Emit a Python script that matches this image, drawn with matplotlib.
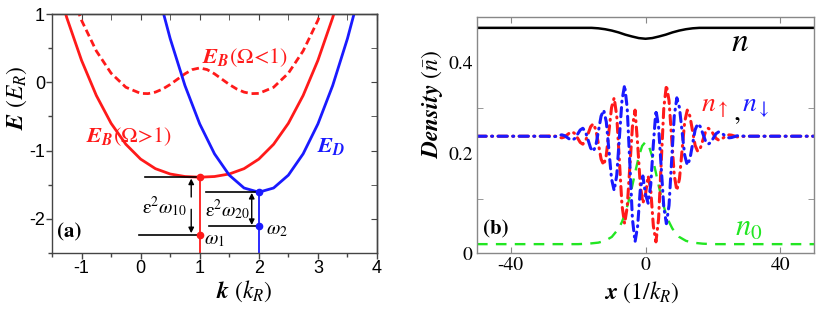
import matplotlib
matplotlib.use("Agg")
import matplotlib.pyplot as plt
import numpy as np

plt.rcParams['mathtext.fontset'] = 'stix'
plt.rcParams['font.family'] = ['STIXGeneral', 'DejaVu Serif']
plt.rcParams['axes.unicode_minus'] = False

# ---------------- Panel (a) data ----------------
k_B_strong = [-1.5, -1.25, -1.0, -0.75, -0.5, -0.25, 0.0, 0.25, 0.5, 0.75, 1.0,
              1.25, 1.5, 1.75, 2.0, 2.25, 2.5, 2.75, 3.0, 3.25, 3.5]
E_B_strong = [1.685, 0.946, 0.321, -0.193, -0.601, -0.908, -1.125, -1.265, -1.343, -1.380, -1.390,
              -1.380, -1.343, -1.265, -1.125, -0.908, -0.601, -0.193, 0.321, 0.946, 1.685]

k_B_weak = [-1.25, -1.0, -0.75, -0.5, -0.25, 0.0, 0.125, 0.25, 0.375, 0.5, 0.625, 0.75, 0.875, 1.0,
            1.125, 1.25, 1.375, 1.5, 1.625, 1.75, 1.875, 2.0, 2.25, 2.5, 2.75, 3.0, 3.25]
E_B_weak = [1.477, 0.907, 0.459, 0.133, -0.073, -0.163, -0.166, -0.144, -0.098, -0.032, 0.046, 0.124, 0.186, 0.210,
            0.186, 0.124, 0.046, -0.032, -0.098, -0.144, -0.166, -0.163, -0.073, 0.133, 0.459, 0.907, 1.477]

k_D = [0.25, 0.5, 0.75, 1.0, 1.25, 1.5, 1.75, 2.0, 2.25, 2.5, 2.75, 3.0, 3.25, 3.5, 3.75]
E_D = [1.453, 0.640, -0.048, -0.610, -1.048, -1.360, -1.548, -1.610, -1.548, -1.360, -1.048, -0.610, -0.048, 0.640, 1.453]

k_min1, E_min1, E_w1 = 1.0, -1.39, -2.23
k_min2, E_min2, E_w2 = 2.0, -1.61, -2.10

# ---------------- Panel (b) data ----------------
x_s = [-50.0, -29.45, -28.68, -27.9, -27.13, -26.35, -25.58, -24.8, -24.03, -23.25, -22.48,
       -21.7, -20.93, -20.15, -19.38, -18.6, -17.83, -17.05, -16.28, -15.5, -14.73,
       -13.95, -13.18, -12.4, -11.63, -10.85, -10.08, -9.3, -8.53, -7.75, -6.98,
       -6.2, -5.43, -4.65, -3.88, -3.1, -2.33, -1.55, -0.78, 0.0, 0.78,
       1.55, 2.33, 3.1, 3.88, 4.65, 5.43, 6.2, 6.98, 7.75, 8.53,
       9.3, 10.08, 10.85, 11.63, 12.4, 13.18, 13.95, 14.73, 15.5, 16.28,
       17.05, 17.83, 18.6, 19.38, 20.15, 20.93, 21.7, 22.48, 23.25, 24.03,
       24.8, 25.58, 26.35, 27.13, 27.9, 28.68, 29.45, 50.0]
n_down = [0.2375, 0.2375, 0.2370, 0.2355, 0.2362, 0.2380, 0.2398, 0.2405, 0.2388, 0.2348, 0.2307,
          0.2290, 0.2328, 0.2420, 0.2512, 0.2550, 0.2476, 0.2295, 0.2114, 0.2040, 0.2173,
          0.2495, 0.2817, 0.2950, 0.2692, 0.2065, 0.1438, 0.1180, 0.1519, 0.2340, 0.3161,
          0.3500, 0.2996, 0.1775, 0.0554, 0.0050, 0.0400, 0.1200, 0.1500, 0.1100, 0.0900,
          0.1300, 0.2200, 0.2950, 0.2585, 0.1700, 0.0815, 0.0450, 0.0854, 0.1835, 0.2816,
          0.3220, 0.3004, 0.2480, 0.1956, 0.1740, 0.1873, 0.2195, 0.2517, 0.2650, 0.2584,
          0.2425, 0.2266, 0.2200, 0.2239, 0.2335, 0.2431, 0.2470, 0.2451, 0.2405, 0.2359,
          0.2340, 0.2347, 0.2365, 0.2383, 0.2390, 0.2380, 0.2375, 0.2375]
n_up = [0.2375, 0.2375, 0.2380, 0.2390, 0.2383, 0.2365, 0.2347, 0.2340, 0.2359, 0.2405, 0.2451,
        0.2470, 0.2431, 0.2335, 0.2239, 0.2200, 0.2266, 0.2425, 0.2584, 0.2650, 0.2517,
        0.2195, 0.1873, 0.1740, 0.1956, 0.2480, 0.3004, 0.3220, 0.2816, 0.1835, 0.0854,
        0.0450, 0.0815, 0.1700, 0.2585, 0.2950, 0.2200, 0.1300, 0.0900, 0.1100, 0.1500,
        0.1200, 0.0400, 0.0050, 0.0554, 0.1775, 0.2996, 0.3500, 0.3161, 0.2340, 0.1519,
        0.1180, 0.1438, 0.2065, 0.2692, 0.2950, 0.2817, 0.2495, 0.2173, 0.2040, 0.2114,
        0.2295, 0.2476, 0.2550, 0.2512, 0.2420, 0.2328, 0.2290, 0.2307, 0.2348, 0.2388,
        0.2405, 0.2398, 0.2380, 0.2362, 0.2355, 0.2370, 0.2375, 0.2375]

x_n = [-50, -16, -14, -12, -10, -8, -6, -4, -2, 0, 2, 4, 6, 8, 10, 12, 14, 16, 50]
n_tot = [0.476, 0.476, 0.475, 0.473, 0.470, 0.466, 0.461, 0.457, 0.4535, 0.452,
         0.4535, 0.457, 0.461, 0.466, 0.470, 0.473, 0.475, 0.476, 0.476]

x_0 = [-50, -20, -17, -14, -12, -10, -8, -7, -6, -5, -4, -3, -2, -1, 0,
       1, 2, 3, 4, 5, 6, 7, 8, 10, 12, 14, 17, 20, 50]
n_0 = [0.0, 0.0, 0.001, 0.0033, 0.0073, 0.0159, 0.0339, 0.0486, 0.0686, 0.0945, 0.1258, 0.160, 0.1925, 0.216, 0.225,
       0.216, 0.1925, 0.160, 0.1258, 0.0945, 0.0686, 0.0486, 0.0339, 0.0159, 0.0073, 0.0033, 0.001, 0.0, 0.0]

RED = '#ff1a1a'
BLUE = '#1a1aff'
GREEN = '#22e622'

fig = plt.figure(figsize=(8.30, 3.09), dpi=100)
W, H = 830.0, 309.0

# ---------------- Panel (a) ----------------
axa = fig.add_axes([52 / W, 1 - 253 / H, 325 / W, 239 / H])
axa.plot(k_B_weak, E_B_weak, color=RED, lw=2.0, ls=(0, (2.6, 1.4)), solid_joinstyle='round')
axa.plot(k_B_strong, E_B_strong, color=RED, lw=2.0, solid_joinstyle='round')
axa.plot(k_D, E_D, color=BLUE, lw=2.0, solid_joinstyle='round')

axa.plot([k_min1, k_min1], [E_min1, -2.6], color=RED, lw=1.3)
axa.plot([k_min2, k_min2], [E_min2, -2.6], color=BLUE, lw=1.3)
axa.plot([0.07, k_min1], [E_min1, E_min1], color='black', lw=1.2)
axa.plot([-0.02, k_min1], [E_w1, E_w1], color='black', lw=1.2)
axa.plot([1.11, k_min2], [E_min2, E_min2], color='black', lw=1.2)
axa.plot([1.16, k_min2], [E_w2, E_w2], color='black', lw=1.2)
axa.plot([k_min1, k_min1], [E_min1, E_w1], 'o', color=RED, ms=4.5, zorder=5)
axa.plot([k_min2, k_min2], [E_min2, E_w2], 'o', color=BLUE, ms=4.5, zorder=5)

ap = dict(arrowstyle='-|>', color='black', lw=1.0, mutation_scale=8, shrinkA=0, shrinkB=0)
axa.annotate('', xy=(0.856, E_min1 - 0.02), xytext=(0.856, -1.68), arrowprops=ap)
axa.annotate('', xy=(0.856, E_w1 + 0.02), xytext=(0.856, -1.86), arrowprops=ap)
ap2 = dict(arrowstyle='<|-|>', color='black', lw=1.0, mutation_scale=8, shrinkA=0, shrinkB=0)
axa.annotate('', xy=(1.88, E_min2 - 0.01), xytext=(1.88, E_w2 + 0.01), arrowprops=ap2)

axa.text(0.40, -1.82, r'$\mathrm{\varepsilon}^2\omega_{10}$', fontsize=14, ha='center', va='center')
axa.text(1.47, -1.86, r'$\mathrm{\varepsilon}^2\omega_{20}$', fontsize=14, ha='center', va='center')
axa.text(1.07, -2.31, r'$\omega_1$', fontsize=14, ha='left', va='center')
axa.text(2.12, -2.17, r'$\omega_2$', fontsize=14, ha='left', va='center')
axa.text(-1.42, -2.2, '(a)', fontsize=15, fontweight='bold', ha='left', va='center')

axa.text(1.04, 0.36, r'$\mathbfit{E}_{\mathbfit{B}}$(Ω<1)', color=RED, fontsize=16, ha='left', va='center')
axa.text(-0.92, -0.80, r'$\mathbfit{E}_{\mathbfit{B}}$(Ω>1)', color=RED, fontsize=16, ha='left', va='center')
axa.text(2.99, -0.94, r'$\mathbfit{E}_{\mathbfit{D}}$', color=BLUE, fontsize=16, ha='left', va='center')

axa.set_xlim(-1.5, 4)
axa.set_ylim(-2.5, 1)
axa.set_xticks([-1, 0, 1, 2, 3, 4])
axa.set_xticks(np.arange(-1.5, 4.01, 0.5), minor=True)
axa.set_yticks([-2, -1, 0, 1])
axa.set_yticks(np.arange(-2.5, 1.01, 0.5), minor=True)
for lab in axa.get_xticklabels() + axa.get_yticklabels():
    lab.set_family('Liberation Sans')
    lab.set_fontsize(13)
axa.tick_params(axis='x', which='both', direction='out', top=False, pad=1)
axa.tick_params(axis='y', which='both', direction='out', right=False, pad=1)
axa.tick_params(which='major', length=4, color='#444444', width=1)
axa.tick_params(which='minor', length=3, color='#444444', width=1)
axt = axa.secondary_xaxis('top')
axt.set_xticks([-1, 0, 1, 2, 3, 4]); axt.set_xticks(np.arange(-1.5, 4.01, 0.5), minor=True)
axt.tick_params(which='both', direction='in', labeltop=False, length=4, color='#444444')
axr = axa.secondary_yaxis('right')
axr.set_yticks([-2, -1, 0, 1]); axr.set_yticks(np.arange(-2.5, 1.01, 0.5), minor=True)
axr.tick_params(which='both', direction='in', labelright=False, length=4, color='#444444')
for sp in list(axa.spines.values()) + [axt.spines['top'], axr.spines['right']]:
    sp.set_color('#444444')
    sp.set_linewidth(1.0)

fig.text(17 / W, 1 - 98 / H, r'$\mathbfit{E}$ ($E_R$)', rotation=90, fontsize=17, ha='center', va='center')
fig.text(244 / W, 1 - 291 / H, r'$\mathbfit{k}$ ($k_R$)', fontsize=17, ha='center', va='center')

# ---------------- Panel (b) ----------------
y0 = -0.0195
axb = fig.add_axes([477 / W, 1 - 253 / H, 337 / W, (253 - 17.3) / H])
axb.plot(x_n, n_tot, color='black', lw=1.8, solid_joinstyle='round')
axb.plot(x_0, n_0, color=GREEN, lw=1.7, ls=(0, (4.5, 3.5)))
dd = (0, (3.0, 1.8, 0.3, 1.8))
axb.plot(x_s, n_up, color=RED, lw=2.2, ls=dd, dash_joinstyle='round', dash_capstyle='round')
axb.plot(x_s, n_down, color=BLUE, lw=2.2, ls=dd, dash_joinstyle='round', dash_capstyle='round')

axb.set_xlim(-50, 50)
axb.set_ylim(y0, 0.4 + (62.3 - 17.3) / 453.5)
axb.set_xticks([-40, 0, 40])
axb.set_yticks([y0, 0.2, 0.4])
axb.set_yticklabels(['0', '0.2', '0.4'])
axb.tick_params(which='both', direction='in', top=True, right=True, length=4, color='#888888',
                labelsize=14, pad=3)
axb.tick_params(axis='y', which='major', length=0)
axb.set_yticks([0.1, 0.2, 0.3, 0.4], minor=True)
axb.tick_params(axis='y', which='minor', length=4)
for sp in axb.spines.values():
    sp.set_color('#888888')
    sp.set_linewidth(1.0)

axb.text(25.5, 0.443, r'$n$', fontsize=24, ha='left', va='center')
axb.text(16.5, 0.300, r'$n_{\uparrow}$', color=RED, fontsize=20, ha='left', va='center')
axb.text(26.0, 0.287, ',', color='black', fontsize=20, ha='left', va='center')
axb.text(28.5, 0.300, r'$n_{\downarrow}$', color=BLUE, fontsize=20, ha='left', va='center')
axb.text(26.5, 0.033, r'$n_0$', color=GREEN, fontsize=22, ha='left', va='center')
axb.text(-48.3, 0.032, '(b)', fontsize=15, fontweight='bold', ha='left', va='center')

fig.text(432 / W, 1 - 105 / H, r'$\mathbfit{Density}$ ($\bar{n}$)', rotation=90, fontsize=17,
         ha='center', va='center')
fig.text(642 / W, 1 - 292 / H, r'$\mathbfit{x}$ (1/$k_R$)', fontsize=17, ha='center', va='center')

fig.savefig('out.png', dpi=100)
